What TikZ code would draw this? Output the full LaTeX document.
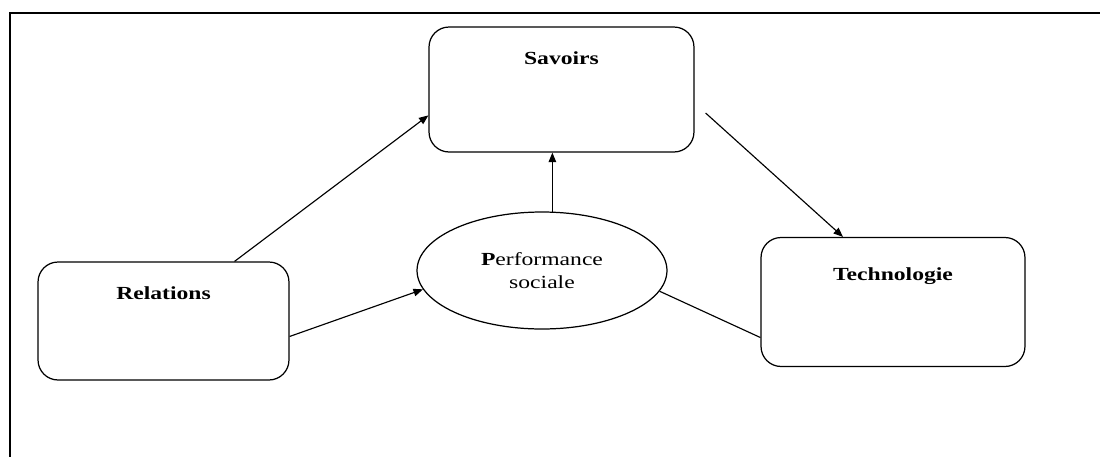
\documentclass[tikz,border=0pt]{standalone}
\usepackage{fontspec}
\setmainfont{Liberation Serif}[FakeStretch=1.28]
\usepackage{tikz}
\usetikzlibrary{shapes.geometric,arrows.meta}

\begin{document}
\begin{tikzpicture}[x=0.02cm, y=-0.02cm,
  boite/.style={rectangle, draw, line width=0.7pt, rounded corners=0.4cm,
    inner sep=0pt, font=\fontsize{10.5}{13}\selectfont},
  titre/.style={anchor=base, font=\fontsize{10.5}{13}\selectfont\bfseries},
  bulle/.style={ellipse, draw, line width=0.7pt, inner sep=0pt,
    minimum width=5cm, minimum height=2.34cm, align=center,
    font=\fontsize{10.5}{13}\selectfont},
  fleche/.style={-{Triangle[length=1.9mm, width=1.5mm]}, line width=0.65pt},
  trait/.style={line width=0.65pt}
]
\useasboundingbox (0,0) rectangle (1100,457);
\draw[line width=1.2pt] (1100,13) -- (10,13) -- (10,457);

\node[boite, minimum width=5.3cm, minimum height=2.5cm,
  label={[titre, yshift=-0.76cm]north:Savoirs}] (sav) at (561.5,89.5) {};
\node[boite, minimum width=5.02cm, minimum height=2.36cm,
  label={[titre, yshift=-0.76cm]north:Relations}] (rel) at (163.5,321) {};
\node[boite, minimum width=5.28cm, minimum height=2.58cm,
  label={[titre, yshift=-0.88cm]north:Technologie}] (tech) at (893,302) {};
\node[bulle] (perf) at (542,270.5) {\textbf{P}erformance\\sociale};

\coordinate (depart) at ([xshift=0.22cm, yshift=-0.47cm]sav.east);

\draw[fleche] (rel.40) -- (sav.191);
\draw[fleche] (rel.-7) -- (perf.189);
\draw[fleche] (perf.80) -- (perf.80 |- sav.south);
\draw[fleche] (depart) -- ([xshift=-1cm]tech.north);
\draw[trait] (perf.-10.4) -- (tech.195);
\end{tikzpicture}
\end{document}
